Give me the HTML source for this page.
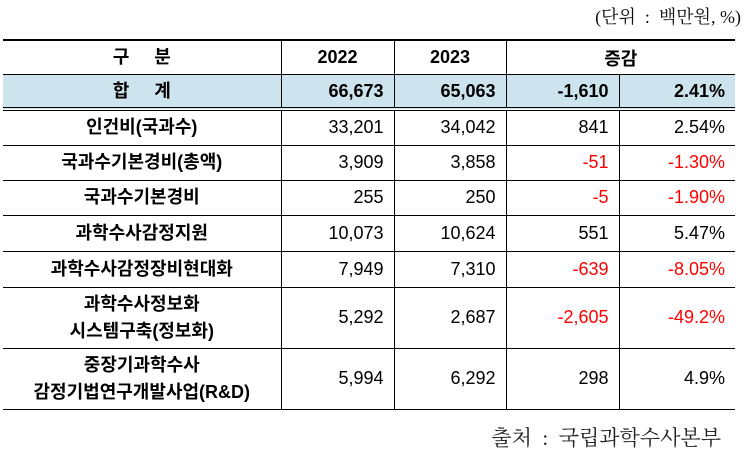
<!DOCTYPE html>
<html><head><meta charset="utf-8"><style>
body{margin:0;width:747px;height:455px;background:#fff;position:relative;overflow:hidden;font-family:"Liberation Sans","Noto Sans CJK KR",sans-serif;}
.unit{position:absolute;right:6px;top:3px;font-family:"Liberation Serif","Noto Serif CJK SC","Noto Sans CJK KR",serif;font-size:18px;color:#111;}
.src{position:absolute;right:26px;top:422px;font-family:"Liberation Serif","Noto Serif CJK SC","Noto Sans CJK KR",serif;font-size:21px;color:#222;}
table{position:absolute;left:3px;top:39px;width:732px;border-collapse:collapse;table-layout:fixed;font-size:18px;color:#000;}
td{border-left:1px solid #000;border-bottom:1px solid #000;padding:0 10px 0 0;text-align:right;}
td:first-child{border-left:none;text-align:center;font-weight:bold;padding:0;line-height:27px;}
tr.hd td{font-weight:bold;text-align:center;padding:0;border-top:2px solid #000;height:33px;}
tr.tot td{background:#cde3ee;font-weight:bold;height:32px;border-bottom:4px double #000;}
.r{color:#f00;}
</style></head><body>
<div class="unit">(단위 &nbsp;: &nbsp;백만원, %)</div>
<table>
<colgroup><col style="width:278px"><col style="width:113px"><col style="width:112px"><col style="width:113px"><col style="width:116px"></colgroup>
<tr class="hd"><td>구 &nbsp;&nbsp;&nbsp; 분</td><td>2022</td><td>2023</td><td colspan="2">증감</td></tr>
<tr class="tot"><td>합 &nbsp;&nbsp;&nbsp; 계</td><td>66,673</td><td>65,063</td><td>-1,610</td><td>2.41%</td></tr>
<tr style="height:36px"><td>인건비(국과수)</td><td>33,201</td><td>34,042</td><td>841</td><td>2.54%</td></tr>
<tr style="height:35px"><td>국과수기본경비(총액)</td><td>3,909</td><td>3,858</td><td class="r">-51</td><td class="r">-1.30%</td></tr>
<tr style="height:35px"><td>국과수기본경비</td><td>255</td><td>250</td><td class="r">-5</td><td class="r">-1.90%</td></tr>
<tr style="height:36px"><td>과학수사감정지원</td><td>10,073</td><td>10,624</td><td>551</td><td>5.47%</td></tr>
<tr style="height:36px"><td>과학수사감정장비현대화</td><td>7,949</td><td>7,310</td><td class="r">-639</td><td class="r">-8.05%</td></tr>
<tr style="height:61px"><td>과학수사정보화<br>시스템구축(정보화)</td><td>5,292</td><td>2,687</td><td class="r">-2,605</td><td class="r">-49.2%</td></tr>
<tr style="height:61px"><td>중장기과학수사<br>감정기법연구개발사업(R&amp;D)</td><td>5,994</td><td>6,292</td><td>298</td><td>4.9%</td></tr>
</table>
<div class="src">출처 &nbsp;: &nbsp;국립과학수사본부</div>
</body></html>
